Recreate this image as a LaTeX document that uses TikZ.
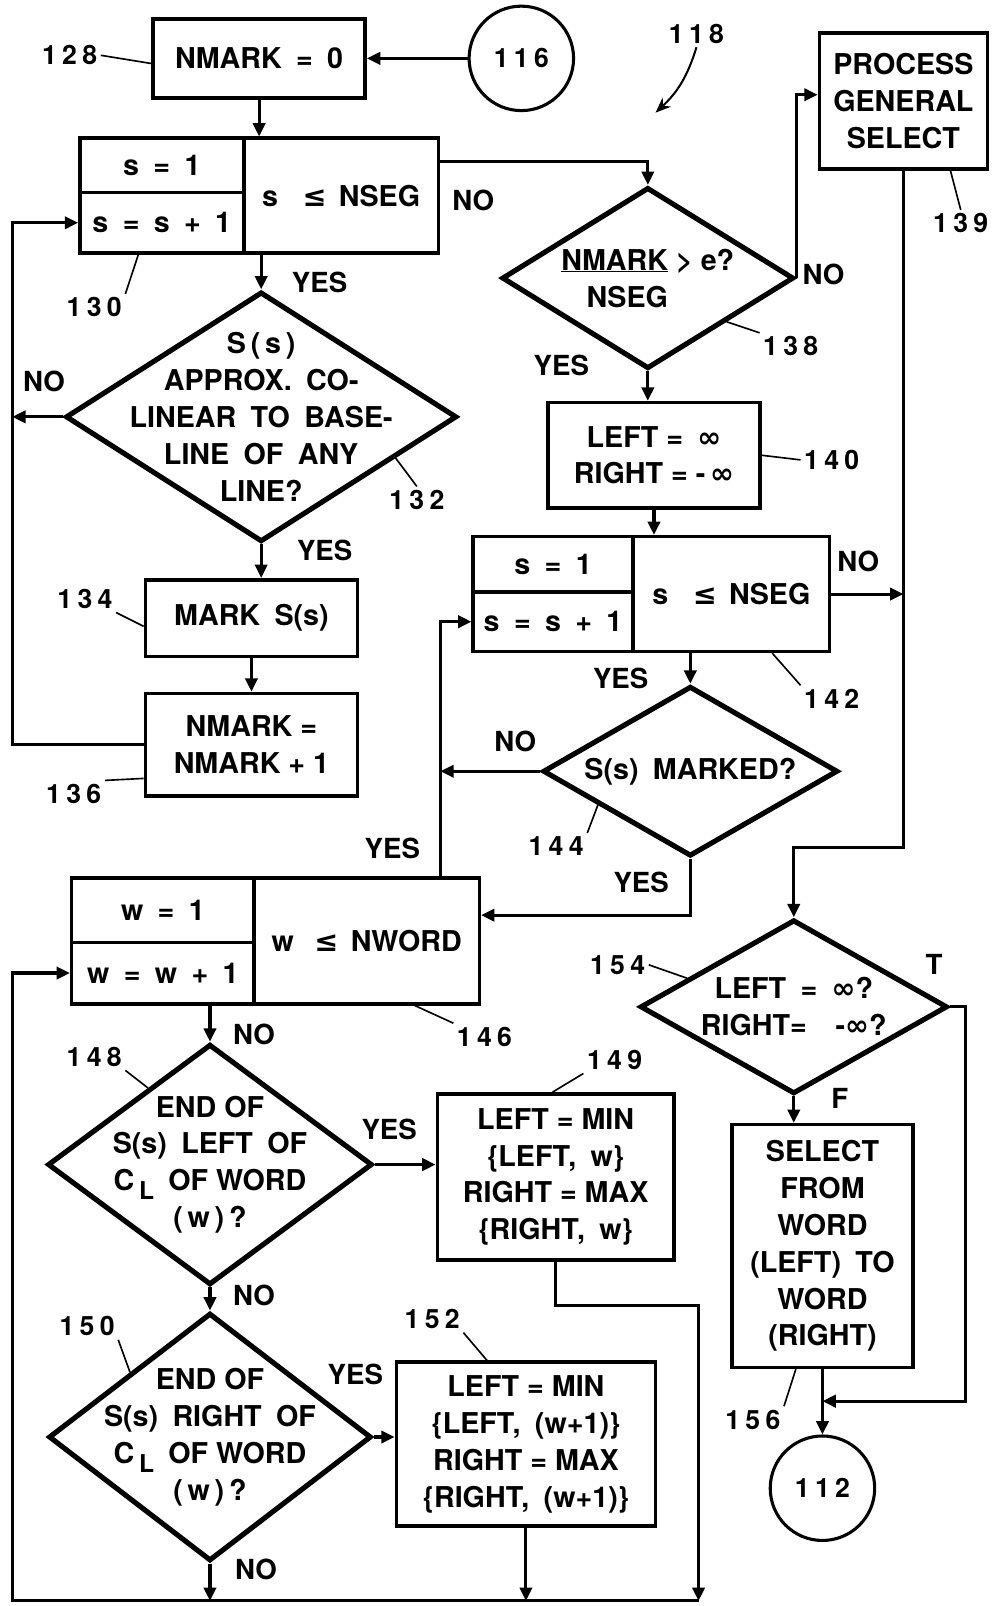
\documentclass[tikz,border=0pt]{standalone}
\usepackage{fontspec}
\setmainfont{TeX Gyre Heros}
\newfontfamily\symfont{DejaVu Sans}
\usetikzlibrary{arrows.meta,shapes.geometric}
\newcommand\leqb{{\symfont\bfseries ≤}}
\newcommand\infb{{\symfont\bfseries ∞}}
\newcommand\cl{C\,\raisebox{-9pt}{\fontsize{24}{24}\selectfont L}}
\tikzset{
  >={Triangle[length=13pt,width=12pt]},
  every node/.style={font=\fontsize{28}{36}\selectfont\bfseries},
  wh/.style 2 args={minimum width=#1pt,minimum height=#2pt},
  box/.style={draw,line width=3.5pt,align=center,inner sep=0pt},
  cell/.style={draw,line width=3.5pt,inner sep=0pt},
  dia/.style={draw,diamond,line width=5pt,inner sep=0pt},
  term/.style={draw,circle,line width=3pt,minimum size=102pt,inner sep=0pt},
  txt/.style={align=center,inner sep=0pt},
  flow/.style={->,line width=3pt},
  leader/.style={line width=1.6pt},
  pointer/.style={-{Stealth[length=15pt,width=12pt]},line width=2pt},
  refno/.style={font=\fontsize{26}{26}\selectfont\bfseries\addfontfeature{LetterSpace=20}},
  tag/.style={font=\fontsize{27}{27}\selectfont\bfseries},
}
\begin{document}
\begin{tikzpicture}[x=1pt,y=-1pt]
  \useasboundingbox (0,0) rectangle (971,1568);
  % rails and knees
  \coordinate (railL) at (12,0);
  \coordinate (railM) at (430,0);
  \coordinate (railT) at (943,0);
  \coordinate (knee154) at (0,827);
  \coordinate (knee149) at (0,1275);
  \coordinate (tjoin) at (0,1368);
  \coordinate (botR) at (682,1563);
  \coordinate (tip118) at (640,110);

  % left column
  \node[box,wh={207}{77}] (b128) at (253,57) {NMARK\enspace=\enspace0};
  \node[term,refno] (c116) at (509,57) {116};
  \node[cell,wh={160}{53}] (init130) at (158,161.5) {s\enspace=\enspace1};
  \node[cell,wh={160}{59}] (incr130) at (158,217.5) {s\enspace=\enspace s\enspace+\enspace1};
  \node[cell,wh={190}{112}] (test130) at (333,191) {s\hspace{24pt}\leqb\hspace{12pt}NSEG};
  \node[dia,wh={382}{244}] (d132) at (255,407) {};
  \node[txt] (d132t) at (d132) {S\,(\,s\,)\\APPROX.\enspace CO-\\LINEAR\enspace TO\enspace BASE-\\LINE\enspace OF\enspace ANY\\LINE?};
  \node[box,wh={207}{75}] (b134) at (245.5,603.5) {MARK\enspace S(s)};
  \node[box,wh={207}{100}] (b136) at (245.5,727) {NMARK =\\NMARK + 1};

  % right column
  \node[box,wh={164}{133}] (b139) at (882,98.5) {PROCESS\\GENERAL\\SELECT};
  \node[dia,wh={285}{177}] (d138) at (632.5,271.5) {};
  \node[txt] (d138t) at (d138) {\underline{NMARK} > e?\\NSEG\hspace*{40pt}};
  \node[box,wh={207}{103}] (b140) at (638.5,444.5) {LEFT =\enspace\infb\\RIGHT = -\,\infb};
  \node[cell,wh={156}{54}] (init142) at (540,551) {s\enspace=\enspace1};
  \node[cell,wh={156}{58}] (incr142) at (540,607) {s\enspace=\enspace s\enspace+\enspace1};
  \node[cell,wh={192}{112}] (test142) at (714,580) {s\hspace{24pt}\leqb\hspace{12pt}NSEG};
  \node[dia,wh={288}{166}] (d144) at (674,753) {};
  \node[txt] (d144t) at (d144) {S(s)\enspace MARKED?};

  % word loop
  \node[cell,wh={178}{63}] (init146) at (159,888.5) {w\enspace=\enspace1};
  \node[cell,wh={178}{60}] (incr146) at (159,950) {w\enspace=\enspace w\enspace+\enspace1};
  \node[cell,wh={220}{123}] (test146) at (358,918.5) {w\hspace{20pt}\leqb\hspace{12pt}NWORD};
  \node[dia,wh={317}{235}] (d148) at (205,1137) {};
  \node[txt] (d148t) at (d148) {END OF\\S(s)\enspace LEFT\enspace OF\\\cl\enspace OF WORD\\(\,w\,)\,?};
  \node[box,wh={231}{162}] (b149) at (542.5,1149) {LEFT = MIN\\\{LEFT,\enspace w\}\\RIGHT = MAX\\\{RIGHT,\enspace w\}};
  \node[dia,wh={315}{242}] (d150) at (205,1403) {};
  \node[txt] (d150t) at (d150) {END OF\\S(s)\enspace RIGHT\enspace OF\\\cl\enspace OF WORD\\(\,w\,)\,?};
  \node[box,wh={253}{160}] (b152) at (513.5,1410) {LEFT = MIN\\\{LEFT,\enspace (w+1)\}\\RIGHT = MAX\\\{RIGHT,\enspace (w+1)\}};
  \node[dia,wh={300}{170}] (d154) at (775,983) {};
  \node[txt] (d154t) at (d154) {LEFT\enspace=\enspace\infb?\\RIGHT=\enspace\enspace-\infb?};
  \node[box,wh={177}{237}] (b156) at (803,1216.5) {SELECT\\FROM\\WORD\\(LEFT)\enspace TO\\WORD\\(RIGHT)};
  \node[term,refno] (c112) at (803,1453) {112};

  % connectors
  \draw[flow] (c116) -- (b128);
  \draw[flow] (b128) -- (b128 |- test130.north);
  \draw[flow] ([yshift=33pt]test130.east) -| (d138.north);
  \draw[flow] (d132.north |- test130.south) -- (d132.north);
  \draw[flow] (d132.west) -- (railL |- d132.west);
  \draw[flow] (d132.south) -- (d132.south |- b134.north);
  \draw[flow] (b134) -- (b136);
  \draw[flow] (b136.west) -| (railL |- incr130.west) -- (incr130.west);
  \draw[flow] (d138.east) |- ([yshift=6pt]b139.west);
  \draw[flow] (d138.south) -- (d138.south |- b140.north);
  \draw[flow] (b140.south) -- (b140.south |- test142.north);
  \draw[flow] (test142.east) -- (test142.east -| b139.south);
  \draw[flow] (b139.south) |- (d154.north |- knee154) -- (d154.north);
  \draw[flow] (d144.north |- test142.south) -- (d144.north);
  \draw[flow] (d144.west) -- (d144.west -| railM);
  \draw[flow] (railM |- test146.north) |- (incr142.west);
  \draw[flow] (d144.south) |- ([yshift=25pt]test146.east);
  \draw[flow] (d148.north |- incr146.south) -- (d148.north);
  \draw[flow] (d148.east) -- (d148.east -| b149.west);
  \draw[flow] (b149.south) |- (botR |- knee149) -- (botR);
  \draw[flow] (d148.south) -- (d150.north);
  \draw[flow] (d150.east) -- (d150.east -| b152.west);
  \draw[flow] (b152.south) -- (b152.south |- botR);
  \draw[flow] (d150.south) -- (d150.south |- botR);
  \draw[flow] (botR) -| (railL |- incr146.west) -- (incr146.west);
  \draw[flow] (d154.south) -- (d154.south |- b156.north);
  \draw[flow] (d154.east) -| (railT |- tjoin) -- (c112.north |- tjoin);
  \draw[flow] (b156.south) -- (c112.north);

  % branch tags
  \foreach \t/\x/\y [count=\i] in {YES/312/276,NO/462/196,NO/43/372,YES/317/537,
      NO/804/268,YES/548/357,NO/838/548,YES/606/662,NO/503/724,YES/626/862,
      YES/383/828,NO/248/1010,YES/380/1103,NO/248/1265,YES/347/1342,NO/250/1532,
      T/912/942,F/820/1072}
    \node[tag] (tag\i) at (\x,\y) {\t};

  % reference numerals
  \foreach \n/\x/\y in {128/68/54,130/92/300,132/407/488,134/83/585,136/72/775,
      138/772/338,139/938/218,140/812/449,142/812/682,144/543/826,146/473/1012,
      148/92/1032,149/600/1035,150/85/1295,152/422/1288,154/603/942,156/735/1386,
      118/680/33}
    \node[refno] (n\n) at (\x,\y) {\n};
  \draw[leader] (n128.east) -- ([yshift=-5pt]b128.west);
  \draw[leader] (n130.north east) -- ([xshift=-23pt]incr130.south);
  \draw[leader] (n132.north) -- (d132.-17);
  \draw[leader] (n134.south east) -- ([yshift=-8pt]b134.west);
  \draw[leader] (n136.north east) -- ([yshift=-33pt]b136.west);
  \draw[leader] (n138.north west) -- (d138.-29);
  \draw[leader] (n139.north) -- ([xshift=46pt]b139.south);
  \draw[leader] (b140.east) -- (n140.west);
  \draw[leader] (n142.north west) -- ([xshift=40pt]test142.south);
  \draw[leader] (n144.north east) -- (d144.-160);
  \draw[leader] (n146.north west) -- ([xshift=47pt]test146.south);
  \draw[leader] (n148.south east) -- (d148.129);
  \draw[leader] (n149.south west) -- ([xshift=-3pt]b149.north);
  \draw[leader] (n150.south east) -- (d150.141);
  \draw[leader] (n152.south east) -- ([xshift=-38pt]b152.north);
  \draw[leader] (n154.east) -- (d154.165);
  \draw[leader] (n156.north east) -- ([xshift=-26pt]b156.south);
  \draw[pointer] (n118.south) to[bend left=15] (tip118);
\end{tikzpicture}
\end{document}
